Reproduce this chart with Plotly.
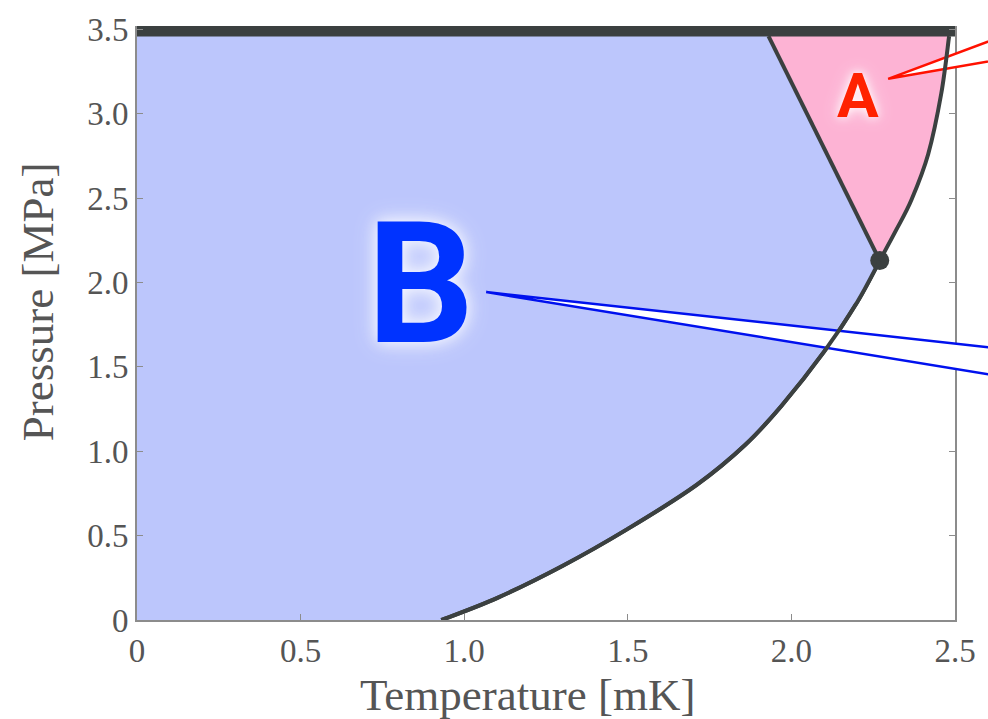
import plotly.graph_objects as go

# ---- data ----
# Tc(P) transition line below the polycritical point
tcl_T = [0.93, 1.10, 1.30, 1.50, 1.71, 1.86, 1.97, 2.10, 2.20, 2.27]
tcl_P = [0.00, 0.13, 0.32, 0.54, 0.80, 1.04, 1.27, 1.59, 1.88, 2.13]
# Tc(P) transition line above the polycritical point
tcu_T = [2.27, 2.32, 2.367, 2.418, 2.458, 2.482]
tcu_P = [2.13, 2.31, 2.49, 2.76, 3.12, 3.46]
# A-B phase boundary (from polycritical point up to melting)
ab_T = [2.27, 2.19, 2.11, 2.02, 1.93]
ab_P = [2.13, 2.44, 2.76, 3.10, 3.46]
# polycritical point
pcp_T = [2.27]
pcp_P = [2.13]
# melting (solidification) line
melt_T = [0.0, 2.5]
melt_P = [3.49, 3.49]

x_ticks = [0, 0.5, 1.0, 1.5, 2.0, 2.5]
x_ticktext = ["0", "0.5", "1.0", "1.5", "2.0", "2.5"]
y_ticks = [0, 0.5, 1.0, 1.5, 2.0, 2.5, 3.0, 3.5]
y_ticktext = ["0", "0.5", "1.0", "1.5", "2.0", "2.5", "3.0", "3.5"]

LINE = "#3b4040"
BLUE_FILL = "#bcc6fc"
PINK_FILL = "#fdb3d4"

fig = go.Figure()

# B phase region (blue): fill left of the lower Tc curve and left of the A-B line
fig.add_trace(go.Scatter(x=tcl_T, y=tcl_P, fill="tozerox", fillcolor=BLUE_FILL,
                         mode="lines", line=dict(color=LINE, width=4, shape="spline"),
                         hoverinfo="skip", showlegend=False))
fig.add_trace(go.Scatter(x=[tcl_T[-2]] + ab_T + [ab_T[-1]],
                         y=[tcl_P[-2]] + ab_P + [melt_P[0]], fill="tozerox",
                         fillcolor=BLUE_FILL, mode="lines", line=dict(width=0),
                         hoverinfo="skip", showlegend=False))
# A phase region (pink) between A-B line and the upper Tc curve
fig.add_trace(go.Scatter(x=ab_T + [ab_T[-1]], y=ab_P + [melt_P[0]], mode="lines",
                         line=dict(width=0), hoverinfo="skip", showlegend=False))
fig.add_trace(go.Scatter(x=tcu_T + [tcu_T[-1]], y=tcu_P + [melt_P[0]], fill="tonextx",
                         fillcolor=PINK_FILL, mode="lines", line=dict(width=0, shape="spline"),
                         hoverinfo="skip", showlegend=False))
# A-B line
fig.add_trace(go.Scatter(x=ab_T, y=ab_P, mode="lines", line=dict(color=LINE, width=4),
                         hoverinfo="skip", showlegend=False))
# melting line
fig.add_trace(go.Scatter(x=melt_T, y=melt_P, mode="lines", line=dict(color=LINE, width=11),
                         hoverinfo="skip", showlegend=False))

# ---- geometry helpers for callouts (pixel -> paper) ----
L, R, T, B = 137, 957, 24, 620
W, H = 988, 719
def px(xp):
    return (xp - L) / (R - L)
def py(yp):
    return (B - yp) / (B - T)

def wedge(tip, e1, e2):
    return "M {},{} L {},{} L {},{} Z".format(px(tip[0]), py(tip[1]), px(e1[0]), py(e1[1]),
                                            px(e2[0]), py(e2[1]))

def smooth_path(xs, ys):
    # Catmull-Rom -> cubic Bezier through the data points
    pts = list(zip(xs, ys))
    d = "M {},{}".format(*pts[0])
    n = len(pts)
    for i in range(n - 1):
        p0 = pts[i - 1] if i > 0 else pts[i]
        p1 = pts[i]
        p2 = pts[i + 1]
        p3 = pts[i + 2] if i + 2 < n else pts[i + 1]
        c1 = (p1[0] + (p2[0] - p0[0]) / 6, p1[1] + (p2[1] - p0[1]) / 6)
        c2 = (p2[0] - (p3[0] - p1[0]) / 6, p2[1] - (p3[1] - p1[1]) / 6)
        d += " C {},{} {},{} {},{}".format(c1[0], c1[1], c2[0], c2[1], p2[0], p2[1])
    return d

shapes = []
ex = 1010
# blue callout tail
shapes.append(dict(type="path", xref="paper", yref="paper", layer="above",
                   path=wedge((487, 291), (ex, 291 + (346 - 291) * (ex - 487) / 501),
                              (ex, 291 + (373 - 291) * (ex - 487) / 501)),
                   fillcolor="white", line=dict(color="#0011ee", width=2.5)))
# red callout tail
shapes.append(dict(type="path", xref="paper", yref="paper", layer="above",
                   path=wedge((890, 77), (ex, 77 - (77 - 40.5) * (ex - 890) / 98),
                              (ex, 77 - (77 - 60) * (ex - 890) / 98)),
                   fillcolor="white", line=dict(color="#ff1100", width=2.5)))
# Tc lines drawn on top of the callouts (from the data arrays)
shapes.append(dict(type="path", xref="x", yref="y", layer="above",
                   path=smooth_path(tcl_T, tcl_P), line=dict(color=LINE, width=4)))
shapes.append(dict(type="path", xref="x", yref="y", layer="above",
                   path=smooth_path(tcu_T, tcu_P), line=dict(color=LINE, width=4)))
fig.update_layout(shapes=shapes)

# polycritical point marker
fig.add_trace(go.Scatter(x=pcp_T, y=pcp_P, mode="markers",
                         marker=dict(color=LINE, size=19), hoverinfo="skip", showlegend=False))

fig.add_annotation(x=px(421), y=py(283), xref="paper", yref="paper", text="<b>B</b>",
                   showarrow=False, xanchor="center", yanchor="middle",
                   font=dict(family="Roboto", size=168, color="#0033ff", weight=900,
                             shadow="0px 0px 14px #f4f6ff, 0px 0px 24px #e8ecff"))
fig.add_annotation(x=px(860), y=py(94), xref="paper", yref="paper", text="<b>A</b>",
                   showarrow=False, xanchor="center", yanchor="middle",
                   font=dict(family="Roboto", size=62, color="#ff2200", weight=900,
                             shadow="0px 0px 10px #ffffff, 0px 0px 18px #ffe6f0"))

axis_font = dict(family="Liberation Serif", size=33, color="#555555")
title_font = dict(family="Liberation Serif", size=45, color="#555555")

# axis titles placed as text at the reference positions
fig.add_annotation(x=px(528), y=py(722), xref="paper", yref="paper", text="Temperature [mK]",
                   showarrow=False, xanchor="center", yanchor="bottom", font=title_font)
fig.add_annotation(x=px(38), y=py(301), xref="paper", yref="paper", text="Pressure [MPa]",
                   showarrow=False, xanchor="center", yanchor="middle", textangle=-90,
                   font=title_font)

fig.update_xaxes(range=[0, 2.5], tickvals=x_ticks, ticktext=x_ticktext,
                 showgrid=False, zeroline=False, showline=True, linecolor="#8c8c8c",
                 linewidth=2, mirror=False, ticks="inside", ticklen=6, tickcolor="#8c8c8c",
                 tickfont=axis_font)
fig.update_yaxes(range=[0, 3.52], tickvals=y_ticks, ticktext=y_ticktext,
                 showgrid=False, zeroline=False, showline=True, linecolor="#8c8c8c",
                 linewidth=2, mirror="ticks", ticks="inside", ticklen=6, tickcolor="#8c8c8c",
                 tickfont=axis_font)

fig.update_layout(width=W, height=H, margin=dict(l=L, r=W - R, t=T, b=H - B),
                  plot_bgcolor="white", paper_bgcolor="white", showlegend=False)

fig.write_html("out.html")
